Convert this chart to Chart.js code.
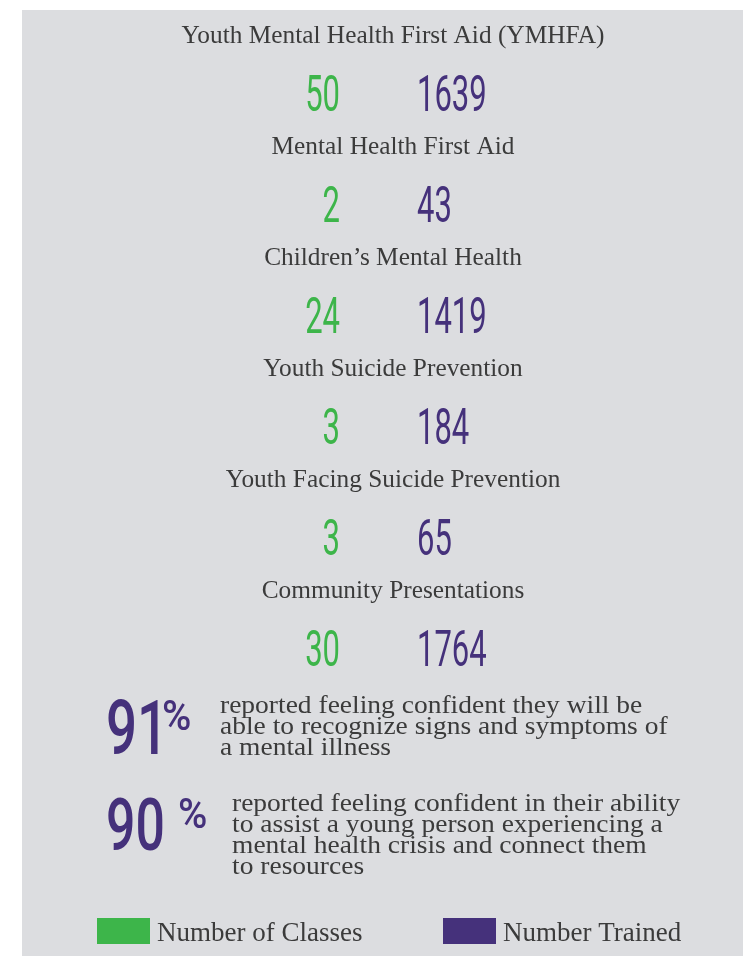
<!DOCTYPE html>
<html>
<head>
<meta charset="utf-8">
<script src="https://cdn.jsdelivr.net/npm/chart.js@4.4.1/dist/chart.umd.min.js"></script>
<style>
  html, body { margin: 0; padding: 0; background: #fff; }
  #panel { position: absolute; left: 22px; top: 10px; width: 721px; height: 946px; background: #dcdde0; }
  #myChart { position: absolute; left: 0; top: 0; }
</style>
</head>
<body>
<div id="panel"></div>
<canvas id="myChart" width="743" height="956"></canvas>
<script>
const ctx = document.getElementById('myChart');

// data
const programs = [
  "Youth Mental Health First Aid (YMHFA)",
  "Mental Health First Aid",
  "Children\u2019s Mental Health",
  "Youth Suicide Prevention",
  "Youth Facing Suicide Prevention",
  "Community Presentations"
];
const classes = [50, 2, 24, 3, 3, 30];
const trained = [1639, 43, 1419, 184, 65, 1764];
const seriesNames = ["Number of Classes", "Number Trained"];
const seriesColors = ["#3db54a", "#45317b"];

const statValues = [91, 90];
const statLines = [
  ["reported feeling confident they will be",
   "able to recognize signs and symptoms of",
   "a mental illness"],
  ["reported feeling confident in their ability",
   "to assist a young person experiencing a",
   "mental health crisis and connect them",
   "to resources"]
];

const numFont = "400 50px Roboto";
const serif = "Liberation Serif";
const textColor = "#3b3b3b";

function squeezeText(c, txt, x, y, font, sx, align, color) {
  c.save();
  c.font = font;
  c.fillStyle = color;
  c.textAlign = align;
  c.textBaseline = "alphabetic";
  c.translate(x, y);
  c.scale(sx, 1);
  c.fillText(txt, 0, 0);
  c.restore();
}

const textPlugin = {
  id: "textMarks",
  afterDatasetsDraw(chart) {
    const c = chart.ctx;
    const yScale = chart.scales.y;

    // numbers at the point positions
    chart.data.datasets.forEach((ds, d) => {
      const meta = chart.getDatasetMeta(d);
      meta.data.forEach((pt, i) => {
        squeezeText(c, String(ds.data[i].v), pt.x, pt.y + 18, numFont, 0.62,
          d === 0 ? "right" : "left", ds.borderColor);
      });
    });

    // program titles above each row
    programs.forEach((p, i) => {
      const y = yScale.getPixelForValue(i);
      squeezeText(c, p, 393, y - 50, "26px " + serif, 0.975, "center", textColor);
    });

    // percentage statements
    const statBase = [754, 850];
    const statSize = [76, 72];
    const statTextX = [220, 232];
    const statTextBase = [713, 811];
    const pctX = [162, 178];
    const pctBase = [730, 828];
    statValues.forEach((v, k) => {
      squeezeText(c, String(v), 106, statBase[k], "500 " + statSize[k] + "px Roboto", 0.72, "left", seriesColors[1]);
      squeezeText(c, "%", pctX[k], pctBase[k], "500 42px Roboto", 0.95, "left", seriesColors[1]);
      statLines[k].forEach((line, j) => {
        squeezeText(c, line, statTextX[k], statTextBase[k] + j * 21, "25px " + serif, 1.1, "left", textColor);
      });
    });

    // legend
    const legX = [97, 443];
    chart.data.datasets.forEach((ds, d) => {
      c.fillStyle = ds.borderColor;
      c.fillRect(legX[d], 918, 53, 26);
      squeezeText(c, ds.label, legX[d] + 60, 941, "27px " + serif, 1, "left", textColor);
    });
  }
};

new Chart(ctx, {
  type: "scatter",
  data: {
    datasets: seriesNames.map((name, d) => ({
      label: name,
      data: programs.map((p, i) => ({ x: name, y: p, v: d === 0 ? classes[i] : trained[i] })),
      borderColor: seriesColors[d],
      backgroundColor: seriesColors[d],
      pointRadius: 0
    }))
  },
  options: {
    responsive: false,
    animation: false,
    layout: { padding: { left: 340, right: 326, top: 93, bottom: 308 } },
    scales: {
      x: { type: "category", labels: seriesNames, offset: false, display: false },
      y: { type: "category", labels: programs, offset: false, display: false }
    },
    plugins: {
      legend: { display: false },
      tooltip: { enabled: false }
    }
  },
  plugins: [textPlugin]
});
</script>
</body>
</html>
